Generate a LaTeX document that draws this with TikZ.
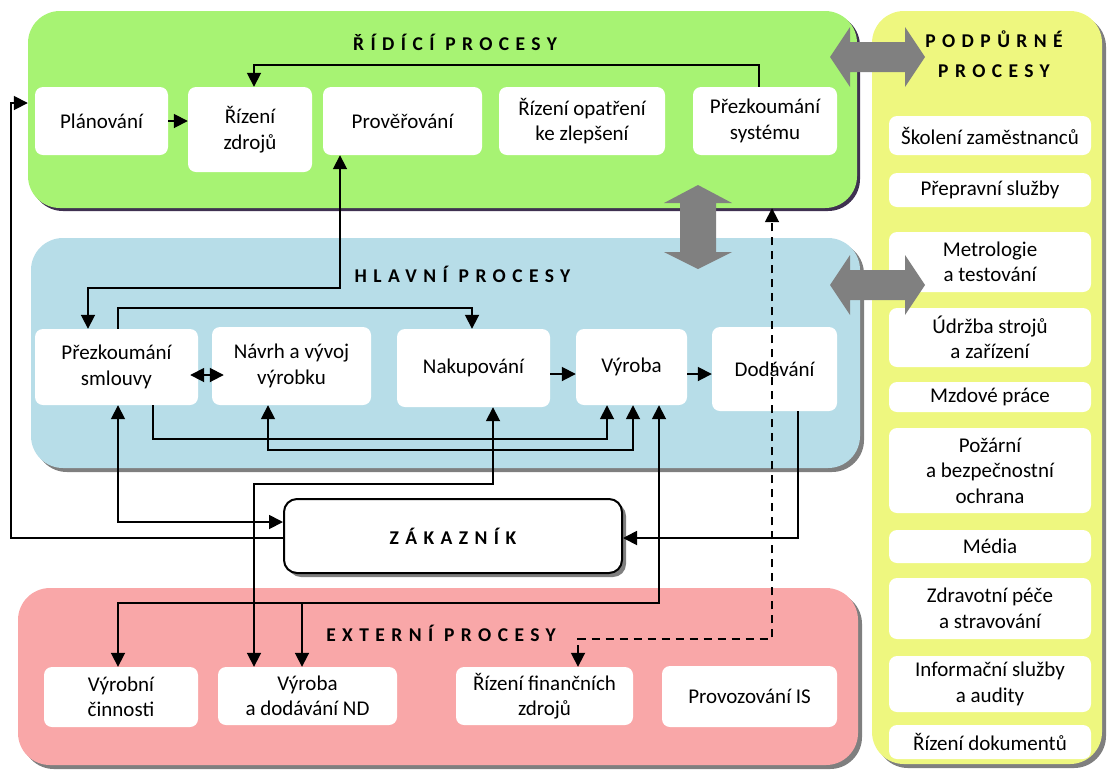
\documentclass[tikz,border=0pt]{standalone}
\usepackage{fontspec}
\setmainfont{Carlito}
\newfontfamily\spacedfont[LetterSpace=33]{Carlito}
\usetikzlibrary{arrows.meta,shadows}
\definecolor{ridici}{HTML}{A7F373}
\definecolor{hlavni}{HTML}{B7DDE8}
\definecolor{externi}{HTML}{F9A7A8}
\definecolor{podpurne}{HTML}{EEF77F}
\definecolor{darkshadow}{HTML}{3F3151}
\definecolor{greyshadow}{HTML}{7F7F7F}
\definecolor{blockgrey}{HTML}{808080}
\begin{document}
\begin{tikzpicture}[x=1pt,y=-1pt,
  panel/.style={rounded corners=32pt, inner sep=0pt, draw=none},
  gshadow/.style={drop shadow={shadow xshift=4pt, shadow yshift=-4pt, fill=greyshadow, opacity=1}},
  pshadow/.style={drop shadow={shadow xshift=3pt, shadow yshift=-3pt, fill=darkshadow, opacity=1}},
  wbox/.style={fill=white, rounded corners=8pt, inner sep=2pt, align=center,
               font=\fontsize{21}{25.5}\selectfont},
  sz/.style 2 args={minimum width=#1pt, minimum height=#2pt},
  title/.style={font=\spacedfont\bfseries\fontsize{19.5}{28}\selectfont, inner sep=0pt},
  conn/.style={line width=1.8pt, draw=black},
  arr/.style={conn, -{Triangle[length=14pt,width=14pt]}},
  arrs/.style={conn, {Triangle[length=14pt,width=14pt]}-{Triangle[length=14pt,width=14pt]}},
  blockarrow/.style={fill=blockgrey, draw=none}
]
\useasboundingbox (0,0) rectangle (1107,772);

% process groups
\node[panel, fill=ridici, pshadow, sz={829}{197}] (gpanel) at (442.5,109.5) {};
\node[panel, fill=hlavni, gshadow, sz={829}{230}] (bpanel) at (445.5,353) {};
\node[panel, fill=externi, gshadow, sz={840}{177}] (rpanel) at (438,676.5) {};
\node[panel, fill=podpurne, gshadow, sz={230}{753}] (ypanel) at (987,387.5) {};

% group titles
\node[title, anchor=base] (tridici) at (455,50) {ŘÍDÍCÍ PROCESY};
\node[title, anchor=base] (thlavni) at (462.5,282) {HLAVNÍ PROCESY};
\node[title, anchor=base] (texterni) at (441,641) {EXTERNÍ PROCESY};
\node[title, anchor=base] (tpodp1) at (994,47) {PODPŮRNÉ};
\node[title, anchor=base] (tpodp2) at (994,77) {PROCESY};

% control processes
\node[wbox, sz={133}{68}] (plan) at (101.5,121) {Plánování};
\node[wbox, sz={124}{85}] (rzdroj) at (250,129.5) {Řízení\\zdrojů};
\node[wbox, sz={159}{68}] (prov) at (402.5,121) {Prověřování};
\node[wbox, sz={166}{68}] (ropat) at (582,121) {Řízení opatření\\ke zlepšení};
\node[wbox, sz={144}{68}] (psys) at (765,121) {Přezkoumání\\systému};

% main processes
\node[wbox, sz={163}{76}] (psml) at (116.5,367) {Přezkoumání\\smlouvy};
\node[wbox, sz={159}{78}] (navrh) at (291.5,366) {Návrh a vývoj\\výrobku};
\node[wbox, sz={153}{78}] (nakup) at (473.5,368) {Nakupování};
\node[wbox, sz={111}{76}] (vyroba) at (631.5,367) {Výroba};
\node[wbox, sz={125}{84}] (dodav) at (774.5,369) {Dodávání};

% customer
\node[wbox, draw=black, line width=2pt, rounded corners=13pt, sz={338}{74},
      drop shadow={shadow xshift=4pt, shadow yshift=-4pt, fill=greyshadow, opacity=1},
      font=\spacedfont\bfseries\fontsize{19.5}{24}\selectfont] (zak) at (453,536) {ZÁKAZNÍK};

% external processes
\node[wbox, sz={154}{60}] (vycin) at (121,697) {Výrobní\\činnosti};
\node[wbox, sz={179}{58}] (vynd) at (307.5,696) {Výroba\\a dodávání ND};
\node[wbox, sz={177}{58}] (rfin) at (544.5,696) {Řízení finančních\\zdrojů};
\node[wbox, sz={175}{61}] (provis) at (749.5,696.5) {Provozování IS};

% support processes
\node[wbox, sz={202}{39}] (skol) at (990,135.5) {Školení zaměstnanců};
\node[wbox, sz={202}{34}] (prep) at (990,190) {Přepravní služby};
\node[wbox, sz={202}{60}] (metr) at (990,262) {Metrologie\\a testování};
\node[wbox, sz={202}{59}] (udrz) at (990,337.5) {Údržba strojů\\a zařízení};
\node[wbox, sz={202}{30}] (mzd) at (990,397) {Mzdové práce};
\node[wbox, sz={202}{85}] (pozar) at (990,470.5) {Požární\\a bezpečnostní\\ochrana};
\node[wbox, sz={202}{33}] (media) at (990,546.5) {Média};
\node[wbox, sz={202}{61}] (zdrav) at (990,608.5) {Zdravotní péče\\a stravování};
\node[wbox, sz={202}{56}] (info) at (990,684) {Informační služby\\a audity};
\node[wbox, sz={202}{34}] (rdok) at (990,742) {Řízení dokumentů};

% links between the groups
\fill[blockarrow] (830,57) -- (850,27) -- (850,42) -- (905,42) -- (905,27) -- (925,57)
  -- (905,87) -- (905,72) -- (850,72) -- (850,87) -- cycle;
\fill[blockarrow] (830,285) -- (850,255) -- (850,270) -- (905,270) -- (905,255) -- (925,285)
  -- (905,315) -- (905,300) -- (850,300) -- (850,315) -- cycle;
\fill[blockarrow] (698,185) -- (732,203) -- (716,203) -- (716,252) -- (732,252) -- (698,269)
  -- (664,252) -- (680,252) -- (680,203) -- (664,203) -- cycle;

% connectors among control processes
\draw[arr] (plan.east) -- (plan.east -| rzdroj.west);
\draw[arr] ([xshift=-6pt]psys.north) -- ++(0,-22) -| ([xshift=4pt]rzdroj.north);
\draw[arrs] ([xshift=-62.5pt]prov.south) -- ++(0,133) -| ([xshift=-28.5pt]psml.north);

% connectors among main processes
\draw[arr] ([xshift=1.5pt]psml.north) -- ++(0,-21) -| ([xshift=-1.5pt]nakup.north);
\coordinate (s1) at ([yshift=-8pt]psml.east);
\draw[arrs, shorten <=-8pt, shorten >=-12pt] (s1) -- (s1 -| navrh.west);
\draw[arr] ([xshift=36.5pt]psml.south) -- ++(0,34) -| ([xshift=-24.5pt]vyroba.south);
\draw[arrs] ([xshift=-23.5pt]navrh.south) -- ++(0,45) -| ([xshift=1.5pt]vyroba.south);
\coordinate (s2) at ([yshift=-6pt]nakup.east);
\draw[arr] (s2) -- (s2 -| vyroba.west);
\coordinate (s3) at ([yshift=-7pt]vyroba.east);
\draw[arr] (s3) -- (s3 -| dodav.west);

% connectors to external processes
\draw[arrs] ([xshift=19.5pt]nakup.south) -- ++(0,77) -| ([xshift=-53.5pt]vynd.north);
\draw[arrs] ([xshift=27.5pt]vyroba.south) -- ++(0,198) coordinate (j1) -| ([xshift=-3pt]vycin.north);
\coordinate (t2) at ([xshift=-5.5pt]vynd.north);
\draw[arr] (t2 |- j1) -- (t2);
\draw[arrs, dash pattern=on 8pt off 6pt] ([xshift=33.5pt]rfin.north) -- ++(0,-28)
  -| ([xshift=329.5pt]gpanel.south);

% connectors with the customer
\draw[arrs] ([xshift=1.5pt]psml.south) |- ([yshift=14pt]zak.west);
\draw[arr] ([yshift=-2pt]zak.west) -- ++(-272,0) |- ([yshift=6.5pt]gpanel.west);
\draw[arr] ([xshift=23.5pt]dodav.south) |- ([yshift=-2pt]zak.east);

\end{tikzpicture}
\end{document}
